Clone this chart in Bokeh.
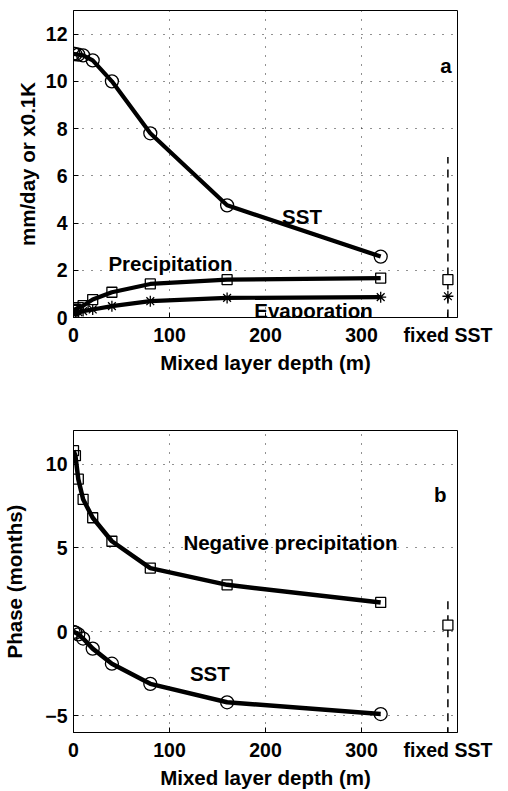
from bokeh.plotting import figure
from bokeh.layouts import column
from bokeh.models import FixedTicker, Range1d
from bokeh.core.properties import value
from bokeh.embed import file_html
from bokeh.resources import INLINE

# Mixed layer depths (m) of the slab-ocean runs
depth = [0, 2, 5, 10, 20, 40, 80, 160, 320]

# (a) amplitudes: mm/day for fluxes, 0.1 K for SST
sst_amp = [11.17, 11.15, 11.13, 11.1, 10.89, 10.0, 7.8, 4.75, 2.58]
precip_amp = [0.3, 0.35, 0.42, 0.5, 0.76, 1.07, 1.42, 1.6, 1.67]
evap_amp = [0.2, 0.21, 0.23, 0.27, 0.34, 0.48, 0.69, 0.83, 0.86]

# fixed-SST run, drawn at a separate position right of the depth axis
fixed_x = 390
fixed_precip_amp = 1.6
fixed_evap_amp = 0.9
fixed_span_a = (0.0, 6.8)

# (b) phases (months)
neg_precip_phase = [10.8, 10.5, 9.1, 7.9, 6.8, 5.4, 3.8, 2.8, 1.75]
sst_phase = [0.0, -0.05, -0.15, -0.4, -1.0, -1.9, -3.1, -4.2, -4.9]
fixed_neg_precip_phase = 0.4
fixed_span_b = (-7.0, 2.1)

x_ticks = [0, 100, 200, 300, fixed_x]
x_tick_labels = {0: "0", 100: "100", 200: "200", 300: "300", fixed_x: "fixed SST"}
a_ticks = [0, 2, 4, 6, 8, 10, 12]
b_ticks = [-5, 0, 5, 10]
b_tick_labels = {-5: "\u22125", 0: "0", 5: "5", 10: "10"}

FONT = "Liberation Sans"


def style(p, yticks, ylabel, label_standoff, ylabels=None):
    p.background_fill_color = "white"
    p.border_fill_color = "white"
    p.outline_line_color = "black"
    p.outline_line_width = 1

    p.xaxis.ticker = FixedTicker(ticks=x_ticks)
    p.xaxis.major_label_overrides = x_tick_labels
    p.yaxis.ticker = FixedTicker(ticks=yticks)
    if ylabels:
        p.yaxis.major_label_overrides = ylabels
    p.xaxis.axis_label = "Mixed layer depth (m)"
    p.yaxis.axis_label = ylabel
    p.yaxis.axis_label_standoff = label_standoff
    p.xaxis.axis_label_standoff = 2

    for ax in (p.xaxis, p.yaxis):
        ax.axis_line_color = "black"
        ax.major_tick_in = 5
        ax.major_tick_out = 0
        ax.minor_tick_line_color = None
        ax.major_label_text_font = FONT
        ax.major_label_text_font_style = "bold"
        ax.major_label_text_font_size = "19.5px"
        ax.major_label_text_color = "black"
        ax.major_label_standoff = 6
        ax.axis_label_text_font = FONT
        ax.axis_label_text_font_style = "bold"
        ax.axis_label_text_font_size = "20.5px"
        ax.axis_label_text_color = "black"

    p.xgrid.ticker = FixedTicker(ticks=[100, 200, 300])
    p.ygrid.ticker = FixedTicker(ticks=yticks)
    for g in (p.xgrid, p.ygrid):
        g.grid_line_color = "#222222"
        g.grid_line_dash = "1 8"
        g.grid_line_width = 1


def label(p, x, y, text):
    p.text(x=[x], y=[y], text=[text], text_font=value(FONT),
           text_font_style="bold", text_font_size="20.5px",
           text_align="center", text_baseline="alphabetic", text_color="black")


# ---- panel a: amplitudes ----
pa = figure(width=508, height=400, output_backend="svg", toolbar_location=None,
            x_range=Range1d(0, 400), y_range=Range1d(0, 13),
            min_border_left=72, min_border_right=50,
            min_border_top=10, min_border_bottom=83)
style(pa, a_ticks, "mm/day or x0.1K", 4)

pa.line(depth, sst_amp, line_color="black", line_width=4.2)
pa.line(depth, precip_amp, line_color="black", line_width=4.2)
pa.line(depth, evap_amp, line_color="black", line_width=4.2)
pa.scatter(depth, sst_amp, marker="circle", size=13, fill_color=None,
           line_color="black", line_width=1.3)
pa.scatter(depth, precip_amp, marker="square", size=10, fill_color=None,
           line_color="black", line_width=1.3)
pa.scatter(depth, evap_amp, marker="asterisk", size=11,
           line_color="black", line_width=1.3)

pa.segment(x0=[fixed_x], y0=[fixed_span_a[0]], x1=[fixed_x], y1=[fixed_span_a[1]],
           line_color="black", line_width=1.5, line_dash="8 6")
pa.scatter([fixed_x], [fixed_precip_amp], marker="square", size=10,
           fill_color="white", line_color="black", line_width=1.3)
pa.scatter([fixed_x], [fixed_evap_amp], marker="asterisk", size=11,
           line_color="black", line_width=1.3)

label(pa, 238, 4.27, "SST")
label(pa, 101, 2.28, "Precipitation")
label(pa, 250, 0.3, "Evaporation")
label(pa, 388, 10.65, "a")

# ---- panel b: phases ----
pb = figure(width=508, height=391, output_backend="svg", toolbar_location=None,
            x_range=Range1d(0, 400), y_range=Range1d(-6, 12),
            min_border_left=71, min_border_right=51,
            min_border_top=30, min_border_bottom=56)
style(pb, b_ticks, "Phase (months)", 16, b_tick_labels)

pb.line(depth, neg_precip_phase, line_color="black", line_width=4.5)
pb.line(depth, sst_phase, line_color="black", line_width=4.5)
pb.scatter(depth, neg_precip_phase, marker="square", size=10, fill_color=None,
           line_color="black", line_width=1.3)
pb.scatter(depth, sst_phase, marker="circle", size=13, fill_color=None,
           line_color="black", line_width=1.3)

pb.segment(x0=[fixed_x], y0=[fixed_span_b[0]], x1=[fixed_x], y1=[fixed_span_b[1]],
           line_color="black", line_width=1.5, line_dash="8 6")
pb.scatter([fixed_x], [fixed_neg_precip_phase], marker="square", size=10,
           fill_color="white", line_color="black", line_width=1.3)

label(pb, 226, 5.3, "Negative precipitation")
label(pb, 142, -2.47, "SST")
label(pb, 382, 8.18, "b")

layout = column(pa, pb, spacing=0)
open("out.html", "w").write(file_html(layout, INLINE))
